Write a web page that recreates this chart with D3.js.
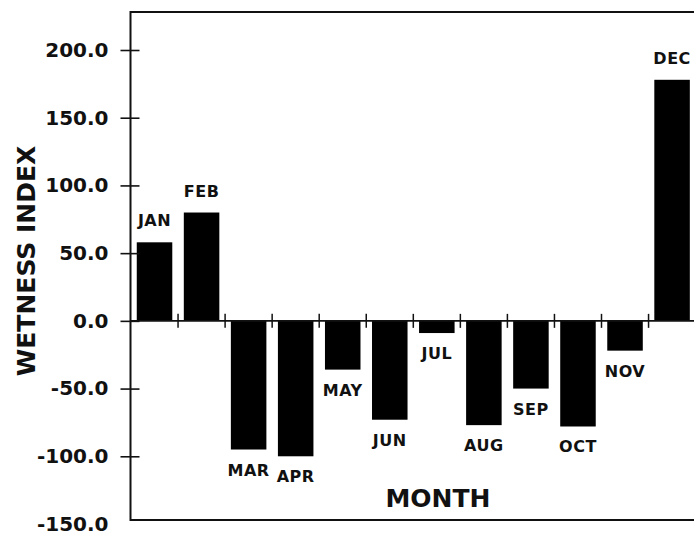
<!DOCTYPE html>
<html>
<head>
<meta charset="utf-8">
<script src="https://cdn.jsdelivr.net/npm/d3@7"></script>
<style>
  html, body { margin: 0; padding: 0; background: #fff; }
  svg { display: block; font-family: "DejaVu Sans", sans-serif; font-weight: bold; }
</style>
</head>
<body>
<svg id="chart" width="694" height="538"></svg>
<script>
// monthly wetness index
const months = ["JAN", "FEB", "MAR", "APR", "MAY", "JUN", "JUL", "AUG", "SEP", "OCT", "NOV", "DEC"];
const wetness = [58, 80, -95, -100, -36, -73, -9, -77, -50, -78, -22, 178];
const yTicks = [200, 150, 100, 50, 0, -50, -100, -150];

const svg = d3.select("#chart");
const ink = "#111";

// plot frame (right side is cut off in the original)
const frameL = 130.5, frameT = 12, frameB = 520, frameR = 700;

const x = d3.scaleBand()
  .domain(months)
  .range([131, 131 + 12 * 47.05])
  .paddingInner(0.245)
  .paddingOuter(0.1225);

const y = d3.scaleLinear()
  .domain([-150, 200])
  .range([524, 50]);

// frame
svg.append("path")
  .attr("d", `M${frameR},${frameT}H${frameL}V${frameB}H${frameR}`)
  .attr("fill", "none")
  .attr("stroke", ink)
  .attr("stroke-width", 2);

// bars
svg.append("g")
  .selectAll("rect")
  .data(months)
  .join("rect")
  .attr("x", d => x(d))
  .attr("width", x.bandwidth())
  .attr("y", (d, i) => y(Math.max(0, wetness[i])))
  .attr("height", (d, i) => Math.abs(y(wetness[i]) - y(0)))
  .attr("fill", "#000");

// zero line with crossing ticks between months
svg.append("line")
  .attr("x1", frameL).attr("x2", frameR)
  .attr("y1", y(0)).attr("y2", y(0))
  .attr("stroke", ink)
  .attr("stroke-width", 1.6);

svg.append("g")
  .selectAll("line")
  .data(months.slice(1))
  .join("line")
  .attr("x1", d => x(d) - x.step() * x.paddingInner() / 2)
  .attr("x2", d => x(d) - x.step() * x.paddingInner() / 2)
  .attr("y1", y(0) - 7)
  .attr("y2", y(0) + 7)
  .attr("stroke", ink)
  .attr("stroke-width", 1.5);

// y axis: crossing ticks, labels with one decimal
const yAxis = d3.axisLeft(y)
  .tickValues(yTicks)
  .tickFormat(d => d.toFixed(1))
  .tickSizeInner(10)
  .tickSizeOuter(0)
  .tickPadding(12);

const gy = svg.append("g")
  .attr("transform", `translate(${frameL},0)`)
  .call(yAxis);
gy.select(".domain").remove();
gy.selectAll(".tick line")
  .attr("x1", -10).attr("x2", 9)
  .attr("stroke", ink)
  .attr("stroke-width", 1.6)
  .filter(d => d === -150).remove();
gy.selectAll(".tick text")
  .attr("x", -22)
  .attr("font-family", "DejaVu Sans")
  .attr("font-weight", "bold")
  .attr("font-size", 20)
  .attr("fill", ink);

// month labels above / below bars
svg.append("g")
  .selectAll("text")
  .data(months)
  .join("text")
  .attr("x", d => x(d) + x.bandwidth() / 2)
  .attr("y", (d, i) => wetness[i] >= 0 ? y(wetness[i]) - 16 : y(wetness[i]) + 26)
  .attr("text-anchor", "middle")
  .attr("font-size", 16)
  .attr("letter-spacing", 0.5)
  .attr("fill", ink)
  .text(d => d);

// axis titles
svg.append("text")
  .attr("transform", "translate(35,261) rotate(-90)")
  .attr("text-anchor", "middle")
  .attr("font-size", 25)
  .attr("fill", ink)
  .text("WETNESS INDEX");

svg.append("text")
  .attr("x", 438)
  .attr("y", 507)
  .attr("text-anchor", "middle")
  .attr("font-size", 25)
  .attr("fill", ink)
  .text("MONTH");
</script>
</body>
</html>
